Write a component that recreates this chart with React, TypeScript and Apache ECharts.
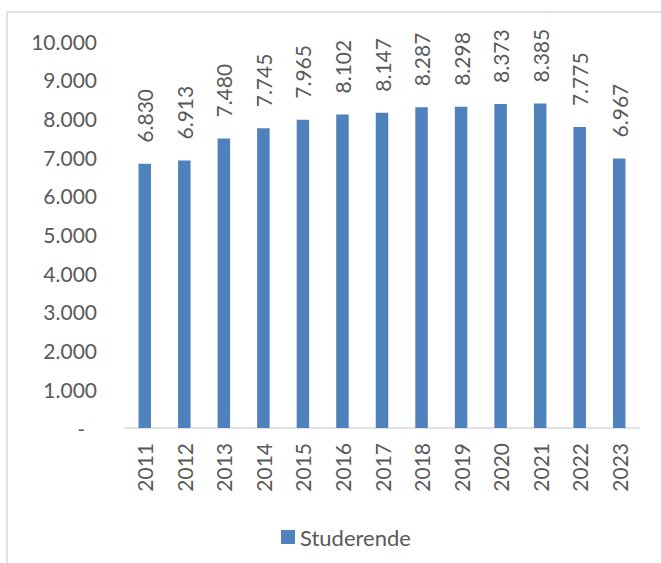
import React, { useEffect, useRef } from "react";
import * as echarts from "echarts";

const years = ["2011", "2012", "2013", "2014", "2015", "2016", "2017", "2018", "2019", "2020", "2021", "2022", "2023"];
const studerende = [6830, 6913, 7480, 7745, 7965, 8102, 8147, 8287, 8298, 8373, 8385, 7775, 6967];
const seriesName = "Studerende";

const fmt = (v: number) => Math.round(v).toString().replace(/\B(?=(\d{3})+(?!\d))/g, ".");

const FONT = "Lato";
const TEXT = "#595959";
const FS = 21;

export default function App() {
  const ref = useRef<HTMLDivElement>(null);
  useEffect(() => {
    if (!ref.current) return;
    const chart = echarts.init(ref.current, undefined, { renderer: "svg" });
    chart.setOption({
      animation: false,
      backgroundColor: "#ffffff",
      textStyle: { fontFamily: FONT },
      graphic: [
        {
          type: "rect",
          shape: { x: 7, y: 12, width: 720, height: 620 },
          style: { fill: "none", stroke: "#D9D9D9", lineWidth: 1.5 },
          silent: true,
        },
      ],
      grid: { left: 125, right: 22, top: 41, bottom: 135, containLabel: false },
      legend: {
        left: 276,
        top: 521,
        itemWidth: 14,
        itemHeight: 14,
        itemGap: 10,
        icon: "rect",
        textStyle: { fontFamily: FONT, fontSize: 22, color: TEXT },
        data: [seriesName],
      },
      xAxis: {
        type: "category",
        data: years,
        axisLine: { show: true, lineStyle: { color: "#D9D9D9", width: 1.5 } },
        axisTick: { show: false },
        axisLabel: { rotate: 90, margin: 15, fontFamily: FONT, fontSize: FS, color: TEXT },
      },
      yAxis: {
        type: "value",
        min: 0,
        max: 10000,
        interval: 1000,
        axisLine: { show: false },
        axisTick: { show: false },
        splitLine: { show: false },
        axisLabel: {
          margin: 28,
          fontFamily: FONT,
          fontSize: FS,
          color: TEXT,
          formatter: (v: number) => (v === 0 ? "{d|-}" : fmt(v)),
          rich: { d: { fontFamily: FONT, fontSize: FS, color: TEXT, padding: [0, 12, 0, 0] } },
        },
      },
      series: [
        {
          name: seriesName,
          type: "bar",
          data: studerende,
          barWidth: 12.5,
          itemStyle: { color: "#4F81BD" },
          label: {
            show: true,
            position: "top",
            rotate: 90,
            align: "left",
            verticalAlign: "middle",
            distance: 21,
            fontFamily: FONT,
            fontSize: FS,
            color: TEXT,
            formatter: (p: any) => fmt(p.value),
          },
        },
      ],
    });
    return () => chart.dispose();
  }, []);
  return (
    <div
      ref={ref}
      style={{ position: "fixed", left: 0, top: 0, width: 661, height: 563, overflow: "hidden" }}
    />
  );
}
